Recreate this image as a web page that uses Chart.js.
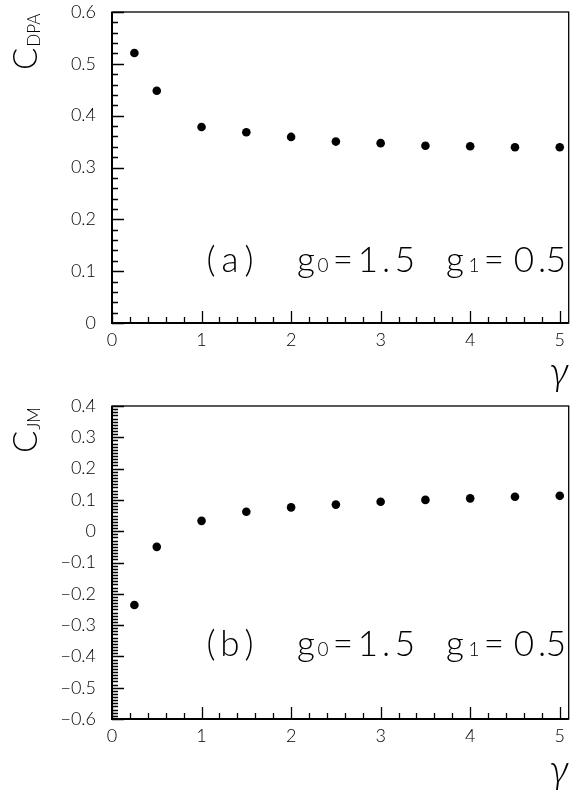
<!DOCTYPE html>
<html>
<head>
<meta charset="utf-8">
<script src="https://cdn.jsdelivr.net/npm/chart.js@4.4.1/dist/chart.umd.min.js"></script>
<style>
  body { margin: 0; background: #fff; }
  .panel { position: absolute; left: 0; width: 573px; }
  #panelA { top: 0; height: 395px; }
  #panelB { top: 395px; height: 396px; }
</style>
</head>
<body>
<div class="panel" id="panelA"><canvas id="chartA"></canvas></div>
<div class="panel" id="panelB"><canvas id="chartB"></canvas></div>
<script>
// gamma values and the two coefficients
const gammaVals = [0.25, 0.5, 1, 1.5, 2, 2.5, 3, 3.5, 4, 4.5, 5];
const cDpa = [0.521, 0.448, 0.378, 0.368, 0.359, 0.350, 0.347, 0.342, 0.341, 0.339, 0.339];
const cJm = [-0.236, -0.050, 0.033, 0.062, 0.076, 0.085, 0.094, 0.100, 0.105, 0.110, 0.113];

const xTicks = [0, 1, 2, 3, 4, 5];
const yTicksA = [0, 0.1, 0.2, 0.3, 0.4, 0.5, 0.6];
const yTicksB = [-0.6, -0.5, -0.4, -0.3, -0.2, -0.1, 0, 0.1, 0.2, 0.3, 0.4];

const THIN = "'Lato', 'Liberation Sans', sans-serif";

function fmtTick(v) {
  if (Math.abs(v) < 1e-9) return '0';
  return v.toFixed(1).replace('-', '\u2212');
}

// "C" + subscript, rotated to read upwards along the y axis
function drawYTitle(ctx, px, py, main, sub) {
  ctx.save();
  ctx.setTransform(1, 0, 0, 1, 0, 0);
  ctx.translate(px, py);
  ctx.rotate(-Math.PI / 2);
  ctx.fillStyle = '#000';
  ctx.textAlign = 'left';
  ctx.textBaseline = 'alphabetic';
  ctx.font = `300 33px ${THIN}`;
  ctx.fillText(main, 0, 0);
  const w = ctx.measureText(main).width;
  ctx.font = `300 17px ${THIN}`;
  ctx.fillText(sub, w + 1, 3);
  ctx.restore();
}

// each glyph is centred on its own x so the wide spacing can be kept
function drawLabelRow(ctx, left, base, tag) {
  ctx.save();
  ctx.fillStyle = '#000';
  ctx.textAlign = 'center';
  ctx.textBaseline = 'alphabetic';
  const big = `300 35px ${THIN}`;
  const small = `300 19px ${THIN}`;
  const glyphs = [
    ['(', 99, big], [tag, 118, big], [')', 137, big],
    ['g', 194, big], ['0', 211, small], ['=', 231, big],
    ['1', 256, big], ['.', 274, big], ['5', 293, big],
    ['g', 343, big], ['1', 362, small], ['=', 382, big],
    ['0', 412, big], ['.', 430, big], ['5', 444, big]
  ];
  glyphs.forEach(([t, dx, f]) => {
    ctx.font = f;
    ctx.fillText(t, left + dx, base);
  });
  ctx.restore();
}

// frame, inward tick marks and the text inside each panel
const framePlugin = {
  id: 'frame',
  afterDraw(chart, args, o) {
    const { ctx, chartArea: a, scales: { x, y } } = chart;
    ctx.save();
    ctx.strokeStyle = '#000';
    ctx.lineWidth = 1.3;
    ctx.strokeRect(a.left, a.top, a.right - a.left, a.bottom - a.top);
    // heavier axis lines on the left and bottom
    ctx.lineWidth = 2;
    ctx.beginPath();
    ctx.moveTo(a.left, a.top);
    ctx.lineTo(a.left, a.bottom);
    ctx.lineTo(a.right, a.bottom);
    ctx.stroke();

    ctx.lineWidth = 1.3;
    ctx.beginPath();
    for (let i = 0; i <= 25; i++) {
      const px = Math.round(x.getPixelForValue(i * 0.2)) + 0.5;
      const len = i % 5 === 0 ? 12 : 6;
      ctx.moveTo(px, a.bottom);
      ctx.lineTo(px, a.bottom - len);
    }
    const n = Math.round((o.yMax - o.yMin) / o.yStep);
    for (let i = 0; i <= n; i++) {
      const py = Math.round(y.getPixelForValue(o.yMin + i * o.yStep)) + 0.5;
      const len = i % o.perMajor === 0 ? 12 : 6;
      ctx.moveTo(a.left, py);
      ctx.lineTo(a.left + len, py);
    }
    ctx.stroke();
    ctx.restore();

    drawYTitle(ctx, o.titleX, o.titleY, 'C', o.sub);
    drawLabelRow(ctx, a.left, a.bottom - o.labelUp, o.tag);

    ctx.save();
    ctx.fillStyle = '#000';
    ctx.font = "italic 300 40px 'Lato', 'Liberation Serif', serif";
    ctx.textAlign = 'right';
    ctx.textBaseline = 'alphabetic';
    ctx.fillText('\u03b3', a.right, a.bottom + o.gammaDown);
    ctx.restore();
  }
};

function makePanel(canvasId, values, cfg) {
  const points = gammaVals.map((g, i) => ({ x: g, y: values[i] }));
  return new Chart(document.getElementById(canvasId), {
    type: 'scatter',
    data: {
      datasets: [{
        data: points,
        pointRadius: 4.3,
        pointBackgroundColor: '#000',
        pointBorderWidth: 0,
        showLine: false
      }]
    },
    options: {
      responsive: true,
      maintainAspectRatio: false,
      animation: false,
      layout: { padding: { top: cfg.padTop, right: 2, left: 0, bottom: 0 } },
      plugins: {
        legend: { display: false },
        tooltip: { enabled: false },
        frame: cfg
      },
      scales: {
        x: {
          type: 'linear',
          min: 0,
          max: 5.1,
          afterBuildTicks: s => { s.ticks = xTicks.map(v => ({ value: v })); },
          afterFit: s => { s.height = 72; s.paddingLeft = 0; s.paddingRight = 0; },
          grid: { display: false, drawTicks: false },
          border: { display: false },
          ticks: {
            padding: 6,
            color: '#000',
            font: { family: THIN, size: 18, weight: 300 },
            maxRotation: 0,
            callback: v => String(v)
          }
        },
        y: {
          min: cfg.yMin,
          max: cfg.yMax,
          afterBuildTicks: s => { s.ticks = cfg.yTicks.map(v => ({ value: v })); },
          afterFit: s => { s.width = 112; s.paddingTop = 0; s.paddingBottom = 0; },
          grid: { display: false, drawTicks: false },
          border: { display: false },
          ticks: {
            padding: 16,
            color: '#000',
            font: { family: THIN, size: 18, weight: 300 },
            callback: v => fmtTick(v)
          }
        }
      }
    },
    plugins: [framePlugin]
  });
}

makePanel('chartA', cDpa, {
  padTop: 12, yMin: 0, yMax: 0.6, yStep: 0.02, perMajor: 5, yTicks: yTicksA,
  sub: 'DPA', tag: 'a', titleX: 37, titleY: 70, labelUp: 51, gammaDown: 62
});
makePanel('chartB', cJm, {
  padTop: 11, yMin: -0.6, yMax: 0.4, yStep: 0.01, perMajor: 10, yTicks: yTicksB,
  sub: 'JM', tag: 'b', titleX: 37, titleY: 58, labelUp: 63, gammaDown: 64
});
</script>
</body>
</html>
